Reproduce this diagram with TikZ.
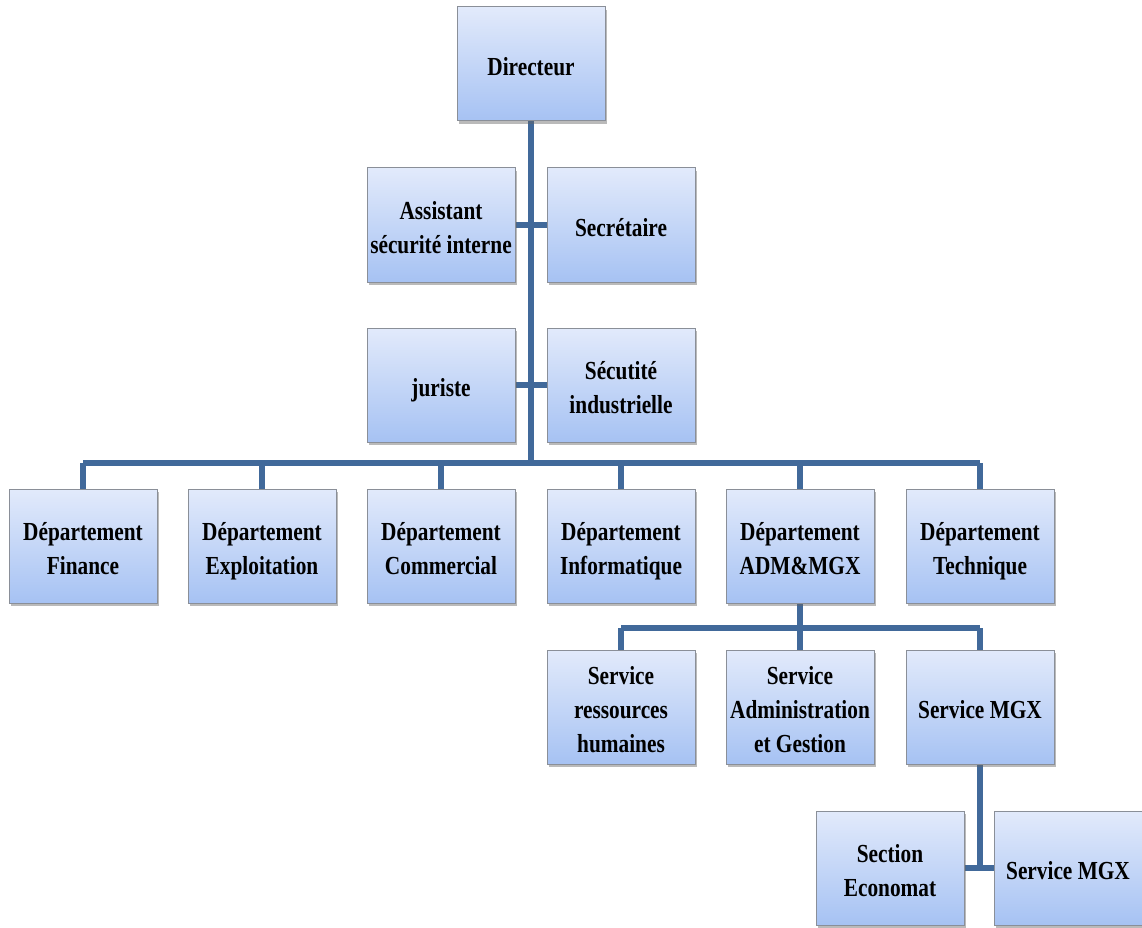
\documentclass[tikz,border=0pt]{standalone}
\usepackage{fontspec}
\setmainfont[FakeStretch=0.82]{Liberation Serif}
\usetikzlibrary{shadows,backgrounds}
\definecolor{linkblue}{HTML}{41699A}
\definecolor{boxtop}{HTML}{E2EAFB}
\definecolor{boxbot}{HTML}{A6C2F3}
\definecolor{boxedge}{HTML}{8A8F98}
% centred label block, set slightly below the box middle
\newcommand{\lbl}[1]{\raisebox{-5pt}[\height][\depth]{\begin{tabular}{@{}c@{}}#1\end{tabular}}}
\tikzset{
  unit/.style={draw=boxedge, line width=1pt, top color=boxtop, bottom color=boxbot,
    minimum width=148pt, minimum height=114pt, inner sep=2pt, align=center,
    font=\fontsize{26pt}{34pt}\selectfont\bfseries,
    drop shadow={shadow xshift=2pt, shadow yshift=-3pt, opacity=0.45, fill=black!60}},
  link/.style={draw=linkblue, line width=5.5pt}
}
\begin{document}
\begin{tikzpicture}[x=1pt, y=-1pt]
\useasboundingbox (0,0) rectangle (1142,928);
% management
\node[unit] (dir) at (531,64) {\lbl{Directeur}};
\node[unit] (asst) at (441,225) {\lbl{Assistant\\sécurité interne}};
\node[unit] (secr) at (621,225) {\lbl{Secrétaire}};
\node[unit] (jur) at (441,385) {\lbl{juriste}};
\node[unit] (secu) at (621,385) {\lbl{Sécutité\\industrielle}};
% departments
\node[unit] (fin) at (83,546) {\lbl{Département\\Finance}};
\node[unit] (expl) at (262,546) {\lbl{Département\\Exploitation}};
\node[unit] (comm) at (441,546) {\lbl{Département\\Commercial}};
\node[unit] (info) at (621,546) {\lbl{Département\\Informatique}};
\node[unit] (adm) at (800,546) {\lbl{Département\\ADM\&MGX}};
\node[unit] (tech) at (980,546) {\lbl{Département\\Technique}};
% services
\node[unit] (rh) at (621,707) {\lbl{Service\\ressources\\humaines}};
\node[unit] (ag) at (800,707) {\lbl{Service\\Administration\\et Gestion}};
\node[unit] (mgx) at (980,707) {\lbl{Service MGX}};
% sections
\node[unit] (eco) at (890,868) {\lbl{Section\\Economat}};
\node[unit] (mgx2) at (1068,868) {\lbl{Service MGX}};
% bus levels
\coordinate (busA) at (0,463);
\coordinate (busB) at (0,628);
\begin{scope}[on background layer]
  \draw[link] (dir.south) -- (dir.south |- busA);
  \draw[link] (asst.east) -- (secr.west);
  \draw[link] (jur.east) -- (secu.west);
  \draw[link] (fin.north |- busA) -- (tech.north |- busA);
  \foreach \d in {fin,expl,comm,info,adm,tech}
    \draw[link] (\d.north) -- (\d.north |- busA);
  \draw[link] (adm.south) -- (adm.south |- busB);
  \draw[link] (rh.north |- busB) -- (mgx.north |- busB);
  \foreach \s in {rh,ag,mgx}
    \draw[link] (\s.north) -- (\s.north |- busB);
  \draw[link] (eco.east) -- (mgx2.west);
  \draw[link] (mgx.south) -- (mgx.south |- eco.east);
\end{scope}
\end{tikzpicture}
\end{document}
